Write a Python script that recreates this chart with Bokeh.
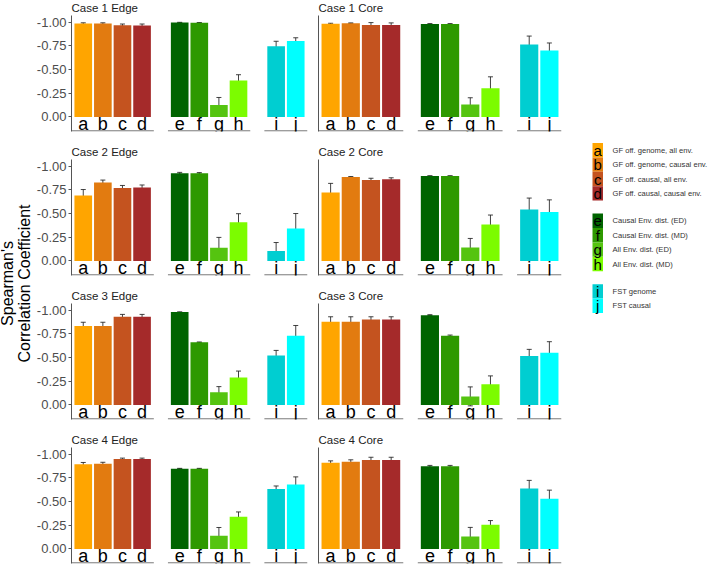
import numpy as np
from bokeh.plotting import figure
from bokeh.models import (ColumnDataSource, Range1d, FixedTicker, NumeralTickFormatter,
                          Whisker, TeeHead, LabelSet)
from bokeh.layouts import row, column
from bokeh.embed import file_html
from bokeh.resources import INLINE
from bokeh.core.properties import value

# ---------------- data ----------------
categories = ["a", "b", "c", "d", "e", "f", "g", "h", "i", "j"]
group_sizes = [4, 4, 2]
colors = ["#FFA500", "#E27B10", "#C4531F", "#A52A2A",
          "#006400", "#2E9900", "#55C410", "#7CFC00",
          "#00CED1", "#00FFFF"]
legend_labels = ["GF off. genome, all env.", "GF off. genome, causal env.",
                 "GF off. causal, all env.", "GF off. causal, causal env.",
                 "Causal Env. dist. (ED)", "Causal Env. dist. (MD)",
                 "All Env. dist. (ED)", "All Env. dist. (MD)",
                 "FST genome", "FST causal"]
panel_titles = ["Case 1 Edge", "Case 1 Core", "Case 2 Edge", "Case 2 Core",
                "Case 3 Edge", "Case 3 Core", "Case 4 Edge", "Case 4 Core"]
y_ticks = [-1.0, -0.75, -0.5, -0.25, 0.0]
y_title = ["Spearman's", "Correlation Coefficient"]

case1_edge = [-0.985, -0.985, -0.968, -0.965, -0.995, -0.993, -0.125, -0.385, -0.745, -0.800]
case1_edge_err = [0.008, 0.008, 0.012, 0.015, 0.003, 0.002, 0.080, 0.060, 0.053, 0.035]
case1_core = [-0.982, -0.988, -0.970, -0.970, -0.980, -0.980, -0.130, -0.303, -0.765, -0.700]
case1_core_err = [0.006, 0.004, 0.025, 0.022, 0.005, 0.005, 0.072, 0.120, 0.088, 0.080]
case2_edge = [-0.689, -0.827, -0.768, -0.775, -0.924, -0.924, -0.138, -0.408, -0.104, -0.343]
case2_edge_err = [0.064, 0.026, 0.028, 0.026, 0.010, 0.008, 0.110, 0.090, 0.090, 0.157]
case2_core = [-0.723, -0.886, -0.855, -0.862, -0.896, -0.896, -0.142, -0.384, -0.543, -0.516]
case2_core_err = [0.095, 0.004, 0.017, 0.015, 0.003, 0.003, 0.095, 0.100, 0.120, 0.128]
case3_edge = [-0.832, -0.832, -0.930, -0.930, -0.979, -0.660, -0.133, -0.290, -0.520, -0.730]
case3_edge_err = [0.040, 0.040, 0.025, 0.025, 0.003, 0.004, 0.060, 0.067, 0.055, 0.108]
case3_core = [-0.877, -0.877, -0.900, -0.900, -0.947, -0.730, -0.090, -0.218, -0.516, -0.550]
case3_core_err = [0.053, 0.053, 0.030, 0.030, 0.005, 0.007, 0.100, 0.088, 0.070, 0.117]
case4_edge = [-0.892, -0.899, -0.948, -0.948, -0.847, -0.847, -0.139, -0.338, -0.631, -0.680]
case4_edge_err = [0.020, 0.015, 0.010, 0.010, 0.003, 0.003, 0.087, 0.052, 0.033, 0.080]
case4_core = [-0.909, -0.920, -0.937, -0.937, -0.871, -0.871, -0.132, -0.254, -0.638, -0.530]
case4_core_err = [0.020, 0.020, 0.030, 0.030, 0.010, 0.010, 0.095, 0.045, 0.085, 0.090]

panel_values = [case1_edge, case1_core, case2_edge, case2_core,
                case3_edge, case3_core, case4_edge, case4_core]
panel_errors = [case1_edge_err, case1_core_err, case2_edge_err, case2_core_err,
                case3_edge_err, case3_core_err, case4_edge_err, case4_core_err]

# ---------------- styling / layout ----------------
FONT = "Liberation Sans"
AXIS_COL = "#555555"
PAD = 0.6      # discrete expansion on each side of a sub-panel
GAP = 0.72     # gap between sub-panels (x units)

xpos, spans = [], []
start = 0.0
for n in group_sizes:
    for k in range(n):
        xpos.append(start + PAD + k)
    end = start + (n - 1) + 2 * PAD
    spans.append((start, end))
    start = end + GAP
X_TOTAL = spans[-1][1]

Y_BOT, Y_TOP = 0.154, -1.070
ROW_TOP, FRAME_H = 15, 116
ROW_BOTS = [13, 13, 13, 3]
TOTAL_H = sum(ROW_TOP + FRAME_H + b for b in ROW_BOTS)


def make_panel(title, vals, errs, left, mbb):
    p = figure(frame_width=236 if left else 243, frame_height=FRAME_H,
               min_border_left=37 if left else 7, min_border_right=4 if left else 2,
               min_border_top=ROW_TOP, min_border_bottom=mbb,
               x_range=Range1d(0, X_TOTAL), y_range=Range1d(Y_BOT, Y_TOP),
               x_axis_location=None, toolbar_location=None, output_backend="svg",
               title=title)
    p.title.text_font = FONT
    p.title.text_font_size = "11.5px"
    p.title.text_font_style = "normal"
    p.title.text_color = "#222222"
    p.title.standoff = 0
    p.title.offset = 0
    p.title.vertical_align = "top"
    p.outline_line_color = None
    p.grid.visible = False
    p.background_fill_color = "white"
    p.border_fill_color = "white"

    ax = p.yaxis[0]
    ax.axis_line_color = AXIS_COL
    ax.axis_line_width = 1
    ax.minor_tick_line_color = None
    if left:
        ax.ticker = FixedTicker(ticks=y_ticks)
        ax.formatter = NumeralTickFormatter(format="0.00")
        ax.major_tick_line_color = AXIS_COL
        ax.major_tick_out = 3
        ax.major_tick_in = 0
        ax.major_label_standoff = 2
        ax.major_label_text_font = FONT
        ax.major_label_text_font_size = "13px"
        ax.major_label_text_color = "#4D4D4D"
    else:
        ax.ticker = FixedTicker(ticks=[])
        ax.major_tick_line_color = None
        ax.major_tick_out = 0
        ax.major_tick_in = 0
        ax.major_label_standoff = 0

    lower = [v + e for v, e in zip(vals, errs)]
    upper = [v - e for v, e in zip(vals, errs)]
    src = ColumnDataSource(dict(x=xpos, top=vals, lower=lower, upper=upper,
                                color=colors, letter=categories))
    p.vbar(x="x", top="top", bottom=0, width=0.9, fill_color="color",
           line_color=None, source=src)
    w = Whisker(base="x", lower="lower", upper="upper", source=src, dimension="height",
                line_color="#222222", line_width=1, line_alpha=0.85,
                upper_head=TeeHead(size=5, line_color="#222222", line_width=1, line_alpha=0.85),
                lower_head=TeeHead(size=5, line_color="#222222", line_width=1, line_alpha=0.85))
    p.add_layout(w)

    # segmented bottom axis lines, one per sub-panel
    p.segment(x0=[s for s, e in spans], x1=[e for s, e in spans],
              y0=Y_BOT - 0.006, y1=Y_BOT - 0.006, line_color=AXIS_COL, line_width=1)

    labels = LabelSet(x="x", y=0.14, text="letter", source=src, text_align="center",
                      text_baseline="alphabetic", text_font=value(FONT),
                      text_font_size=value("18px"), text_color="black")
    p.add_layout(labels)
    return p


rows = []
for r in range(4):
    lp = make_panel(panel_titles[2 * r], panel_values[2 * r], panel_errors[2 * r], True, ROW_BOTS[r])
    rp = make_panel(panel_titles[2 * r + 1], panel_values[2 * r + 1], panel_errors[2 * r + 1], False, ROW_BOTS[r])
    rows.append(row(lp, rp, spacing=0))

# y axis title
YTW = 33
yt = figure(frame_width=YTW, frame_height=TOTAL_H, min_border=0,
            x_range=Range1d(0, YTW), y_range=Range1d(TOTAL_H, 0),
            x_axis_location=None, y_axis_location=None,
            toolbar_location=None, output_backend="svg")
yt.outline_line_color = None
yt.grid.visible = False
yt.text(x=[6.5, 23.5], y=[283, 283], text=y_title, angle=np.pi / 2,
        text_align="center", text_baseline="middle", text_font=value(FONT),
        text_font_size="16px", text_color="black")

# legend key
LW = 146
lg = figure(frame_width=LW, frame_height=TOTAL_H, min_border=0,
            x_range=Range1d(0, LW), y_range=Range1d(TOTAL_H, 0),
            x_axis_location=None, y_axis_location=None,
            toolbar_location=None, output_backend="svg")
lg.outline_line_color = None
lg.grid.visible = False
BOX_H = 14.4
tops = []
ytop = 142.5
for gi, n in enumerate(group_sizes):
    for k in range(n):
        tops.append(ytop)
        ytop += BOX_H
    ytop += 13.0
centers = [t + BOX_H / 2 for t in tops]
lsrc = ColumnDataSource(dict(top=tops, bottom=[t + BOX_H for t in tops], yc=centers,
                             color=colors, letter=categories, label=legend_labels))
lg.quad(left=29, right=39.5, top="top", bottom="bottom", fill_color="color",
        line_color=None, source=lsrc)
lg.text(x=34.25, y="yc", text="letter", text_align="center", text_baseline="middle",
        text_font=value(FONT), text_font_size="15px", text_color="black", source=lsrc)
lg.text(x=49, y="yc", text="label", text_align="left", text_baseline="middle",
        text_font=value(FONT), text_font_size="7.6px", text_color="#333333", source=lsrc)

layout = row(yt, column(*rows, spacing=0), lg, spacing=0)

open("out.html", "w").write(file_html(layout, INLINE))
